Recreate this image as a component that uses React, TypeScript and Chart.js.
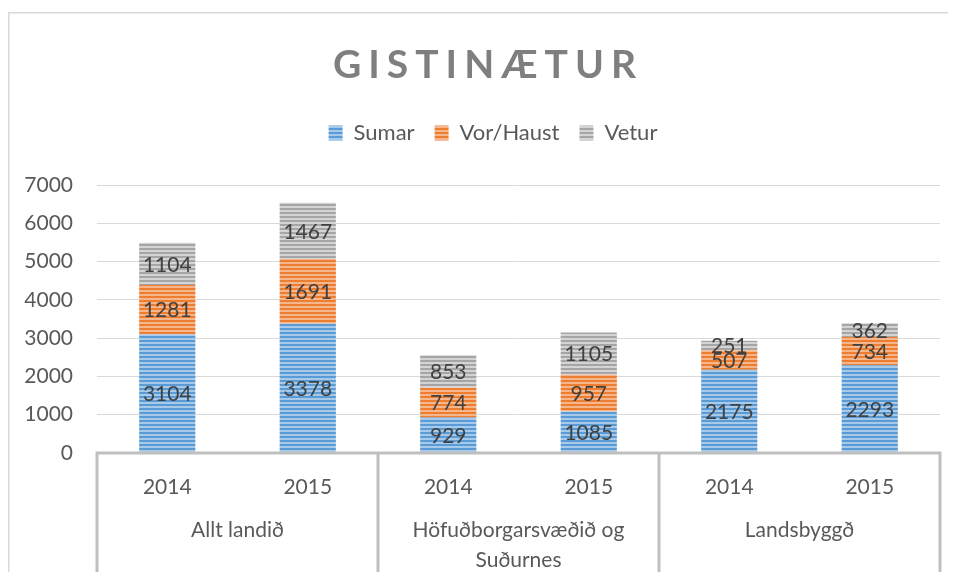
import React, { useEffect, useRef } from "react";
import { Chart, registerables } from "chart.js";

Chart.register(...registerables);

const titleText = "GISTINÆTUR";
const years = ["2014", "2015"];
const groupLabels: string[][] = [["Allt landið"], ["Höfuðborgarsvæðið og", "Suðurnes"], ["Landsbyggð"]];
const seriesNames = ["Sumar", "Vor/Haust", "Vetur"];
const sumar = [3104, 3378, 929, 1085, 2175, 2293];
const vorHaust = [1281, 1691, 774, 957, 507, 734];
const vetur = [1104, 1467, 853, 1105, 251, 362];
const yMax = 7000;
const yStep = 1000;

const FONT = "Lato, 'Open Sans', sans-serif";
const TEXT = "#595959";

function stripes(base: string, light: string): CanvasPattern | string {
  const c = document.createElement("canvas");
  c.width = 4;
  c.height = 4;
  const g = c.getContext("2d");
  if (!g) return base;
  g.fillStyle = base;
  g.fillRect(0, 0, 4, 4);
  g.fillStyle = light;
  g.fillRect(0, 2, 4, 2);
  return g.createPattern(c, "repeat") || base;
}

export default function App() {
  const ref = useRef<HTMLCanvasElement | null>(null);

  useEffect(() => {
    if (!ref.current) return;
    const labels: string[] = [];
    groupLabels.forEach(() => years.forEach((y) => labels.push(y)));

    const fills = [
      stripes("#5B9BD5", "#A8CAEA"),
      stripes("#ED7D31", "#F5B68B"),
      stripes("#A5A5A5", "#D4D4D4"),
    ];
    const values = [sumar, vorHaust, vetur];

    const decor = {
      id: "decor",
      afterInit(chart: any) {
        const l = chart.legend;
        if (l) {
          const f = l.fit.bind(l);
          l.fit = () => {
            f();
            l.height += 31;
          };
          const d = l.draw.bind(l);
          l.draw = () => {
            chart.ctx.save();
            chart.ctx.translate(19, 0);
            d();
            chart.ctx.restore();
          };
        }
      },
      beforeDraw(chart: any) {
        const ctx = chart.ctx;
        ctx.save();
        ctx.strokeStyle = "#d9d9d9";
        ctx.lineWidth = 1.5;
        ctx.beginPath();
        ctx.moveTo(0.75, chart.height + 5);
        ctx.lineTo(0.75, 4.75);
        ctx.lineTo(chart.width + 5, 4.75);
        ctx.stroke();
        ctx.fillStyle = "#7f7f7f";
        ctx.font = `bold 39px ${FONT}`;
        (ctx as any).letterSpacing = "7px";
        ctx.textAlign = "center";
        ctx.textBaseline = "middle";
        ctx.fillText(titleText, chart.width / 2 + 10, 57);
        ctx.restore();
      },
      afterDatasetsDraw(chart: any) {
        const ctx = chart.ctx;
        ctx.save();
        ctx.font = `21px ${FONT}`;
        ctx.fillStyle = "#404040";
        ctx.textAlign = "center";
        ctx.textBaseline = "middle";
        chart.data.datasets.forEach((ds: any, di: number) => {
          const meta = chart.getDatasetMeta(di);
          meta.data.forEach((bar: any, i: number) => {
            const p = bar.getProps(["x", "y", "base"], true);
            ctx.fillText(String(ds.data[i]), p.x, (p.y + p.base) / 2 + 1);
          });
        });
        ctx.restore();
      },
      afterDraw(chart: any) {
        const ctx = chart.ctx;
        const x = chart.scales.x;
        const area = chart.chartArea;
        const n = labels.length;
        ctx.save();
        ctx.strokeStyle = "#bfbfbf";
        ctx.lineWidth = 3;
        ctx.beginPath();
        ctx.moveTo(area.left, area.bottom);
        ctx.lineTo(area.right, area.bottom);
        const per = years.length;
        for (let g = 0; g <= groupLabels.length; g++) {
          let bx: number;
          if (g === 0) bx = area.left;
          else if (g === groupLabels.length) bx = area.right;
          else bx = (x.getPixelForValue(g * per - 1) + x.getPixelForValue(g * per)) / 2;
          ctx.moveTo(bx, area.bottom - 1.5);
          ctx.lineTo(bx, chart.height);
        }
        ctx.stroke();
        ctx.fillStyle = TEXT;
        ctx.font = `21px ${FONT}`;
        ctx.textAlign = "center";
        ctx.textBaseline = "middle";
        for (let i = 0; i < n; i++) {
          ctx.fillText(labels[i], x.getPixelForValue(i), area.bottom + 34);
        }
        groupLabels.forEach((lines, g) => {
          const cx = (x.getPixelForValue(g * per) + x.getPixelForValue(g * per + per - 1)) / 2;
          lines.forEach((t, li) => {
            ctx.fillText(t, cx, area.bottom + 77 + li * 30);
          });
        });
        ctx.restore();
      },
    };

    const chart = new Chart(ref.current, {
      type: "bar",
      data: {
        labels,
        datasets: seriesNames.map((name, k) => ({
          label: name,
          data: values[k],
          backgroundColor: fills[k] as any,
          borderWidth: 0,
          barPercentage: 0.4,
          categoryPercentage: 1,
        })),
      },
      options: {
        animation: false,
        responsive: true,
        maintainAspectRatio: false,
        layout: { padding: { top: 94, left: 0, right: 8, bottom: 119 } },
        plugins: {
          title: { display: false },
          tooltip: { enabled: false },
          legend: {
            position: "top",
            labels: {
              color: TEXT,
              font: { family: FONT, size: 22 },
              boxWidth: 14,
              boxHeight: 15,
              padding: 20,
            },
          },
        },
        scales: {
          x: { stacked: true, display: false },
          y: {
            stacked: true,
            min: 0,
            max: yMax,
            afterFit: (s: any) => {
              s.width = 89;
            },
            ticks: {
              stepSize: yStep,
              color: TEXT,
              font: { family: FONT, size: 21 },
              padding: 24,
              callback: (v: any) => String(v),
            },
            grid: { color: "#d9d9d9", drawTicks: false, lineWidth: 1 },
            border: { display: false },
          },
        },
      },
      plugins: [decor],
    });
    return () => chart.destroy();
  }, []);

  return (
    <div style={{ width: 940, height: 564, position: "relative" }}>
      <canvas ref={ref} />
    </div>
  );
}
